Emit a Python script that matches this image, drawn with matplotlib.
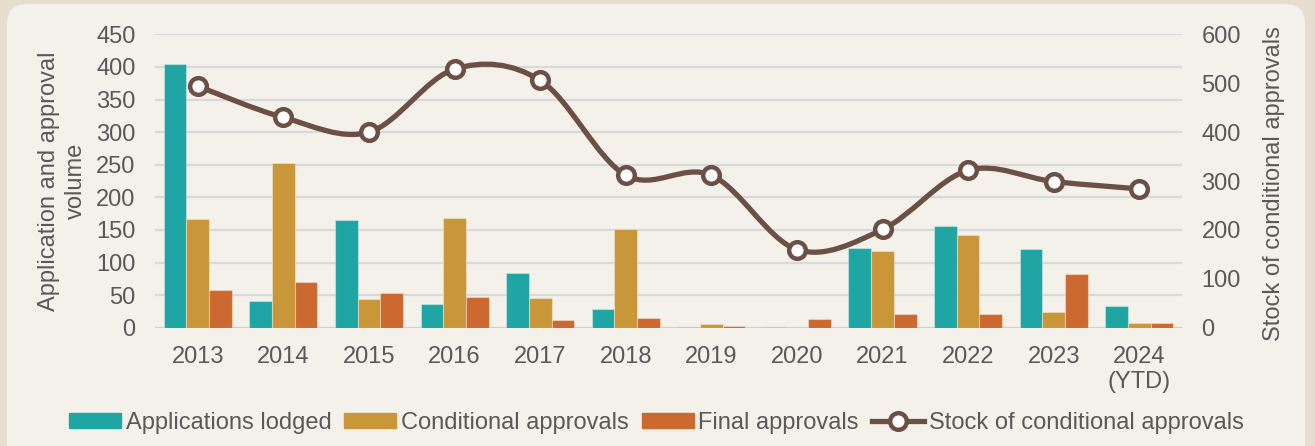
import numpy as np
import matplotlib
matplotlib.use('Agg')
from matplotlib import pyplot as plt
from matplotlib.path import Path
from matplotlib.patches import PathPatch, FancyBboxPatch, Patch
from matplotlib.lines import Line2D

plt.rcParams['font.family'] = ['Liberation Sans', 'DejaVu Sans']

years = ['2013', '2014', '2015', '2016', '2017', '2018', '2019', '2020',
         '2021', '2022', '2023', '2024\n(YTD)']
lodged = [404, 41, 165, 36, 84, 29, 2, 2, 123, 156, 121, 33]
conditional = [167, 253, 44, 168, 45, 152, 6, 0, 118, 142, 24, 7]
final = [58, 70, 54, 48, 12, 15, 3, 13, 21, 21, 83, 8]
stock = [494, 430, 400, 529, 506, 312, 312, 160, 201, 322, 299, 284]

teal = '#1FA5A4'
gold = '#C9963A'
orange = '#CB6930'
brown = '#6C5045'
txt = '#595959'
fs = 17

fig = plt.figure(figsize=(13.15, 4.46), dpi=100)
fig.patch.set_facecolor('#E6DFCF')
panel = FancyBboxPatch((0.07, -0.3), 12.98, 4.72,
                       boxstyle='round,pad=0,rounding_size=0.2',
                       transform=fig.dpi_scale_trans,
                       facecolor='#F3F1EA', edgecolor='none', zorder=-10)
fig.patches.append(panel)

ax = fig.add_axes([0.1179, 0.265, 0.7810, 0.658])
ax.set_facecolor('none')
x = np.arange(len(years))
w = 0.265
ax.bar(x - w, lodged, w, color=teal, edgecolor=(1, 1, 1, 0.35), linewidth=0.8, zorder=3)
ax.bar(x, conditional, w, color=gold, edgecolor=(1, 1, 1, 0.35), linewidth=0.8, zorder=3)
ax.bar(x + w, final, w, color=orange, edgecolor=(1, 1, 1, 0.35), linewidth=0.8, zorder=3)

ax.set_xlim(-0.5, len(years) - 0.5)
ax.set_ylim(0, 450)
ax.set_yticks(range(0, 451, 50))
ax.set_xticks(x)
ax.set_xticklabels(years)
ax.grid(axis='y', color='#D9D9D9', linewidth=1.6, zorder=0)
ax.axhline(0, color='#D0D0D0', linewidth=2.2, zorder=1)
ax.set_axisbelow(True)
for s in ax.spines.values():
    s.set_visible(False)
ax.tick_params(length=0, labelsize=fs, colors=txt)
ax.tick_params(axis='y', pad=14)
ax.tick_params(axis='x', pad=13)
ax.set_ylabel('Application and approval\nvolume', fontsize=fs, color=txt,
              linespacing=1.3)
ax.yaxis.set_label_coords(-0.066, 0.5)

ax2 = ax.twinx()
ax2.set_ylim(0, 600)
ax2.set_yticks(range(0, 601, 100))
for s in ax2.spines.values():
    s.set_visible(False)
ax2.tick_params(length=0, labelsize=fs, colors=txt, pad=14)
ax2.set_ylabel('Stock of conditional approvals', fontsize=fs, color=txt)
ax2.yaxis.set_label_coords(1.079, 0.49)

# smoothed line like the spreadsheet one (bezier through the points)
pts = np.column_stack([x, stock]).astype(float)
n = len(pts)
verts = [pts[0]]
codes = [Path.MOVETO]
for i in range(n - 1):
    p0 = pts[max(i - 1, 0)]
    p1 = pts[i]
    p2 = pts[i + 1]
    p3 = pts[min(i + 2, n - 1)]
    verts += [p1 + (p2 - p0) / 6.0, p2 - (p3 - p1) / 6.0, p2]
    codes += [Path.CURVE4] * 3
ax2.add_patch(PathPatch(Path(verts, codes), facecolor='none', edgecolor=brown,
                        linewidth=3.8, capstyle='round', zorder=4))
ax2.plot(x, stock, 'o', markersize=12, markerfacecolor='white',
         markeredgecolor=brown, markeredgewidth=3.2, zorder=5)

handles = [Patch(color=teal), Patch(color=gold), Patch(color=orange),
           Line2D([], [], color=brown, linewidth=3.8, marker='o', markersize=12,
                  markerfacecolor='white', markeredgecolor=brown, markeredgewidth=3.2)]
labels = ['Applications lodged', 'Conditional approvals', 'Final approvals',
          'Stock of conditional approvals']
leg = fig.legend(handles, labels, loc='center', bbox_to_anchor=(0.499, 0.052),
                 ncol=4, frameon=False, fontsize=fs, handlelength=2.2,
                 handleheight=0.55, handletextpad=0.2, columnspacing=0.55,
                 borderaxespad=0)
for t in leg.get_texts():
    t.set_color(txt)

fig.savefig('out.png', dpi=100, facecolor=fig.get_facecolor())
